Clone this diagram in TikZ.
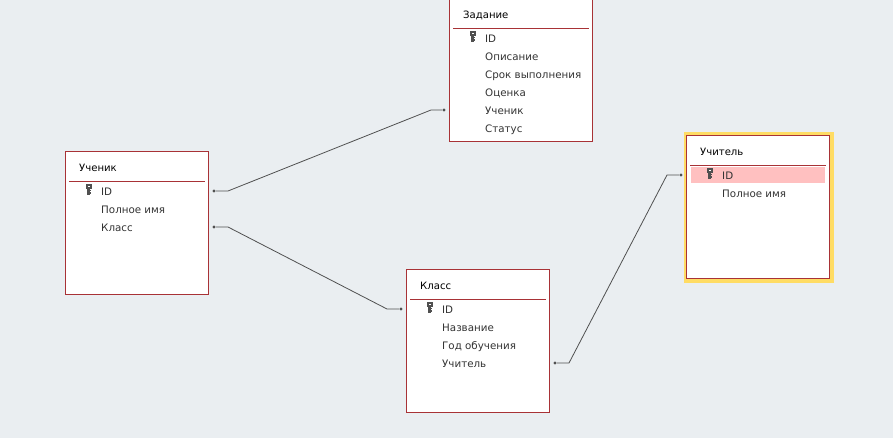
\documentclass[tikz,border=0pt]{standalone}
\usepackage{fontspec}
\setmainfont{DejaVu Sans}
\definecolor{canvas}{HTML}{EAEEF1}
\definecolor{tableline}{HTML}{A83236}
\definecolor{selected}{HTML}{FFDC64}
\definecolor{rowred}{HTML}{FFC0C0}
\definecolor{linkgrey}{HTML}{505050}
\definecolor{fieldtext}{HTML}{333333}
\tikzset{
	tablebox/.style = {draw = tableline, fill = white, line width = 1.1pt, minimum width = 143pt, minimum height = 143pt, inner sep = 0, outer sep = 0, anchor = north west},
	titletext/.style = {inner sep = 0, anchor = base west, text = black, font = \fontsize{10.1}{12}\selectfont},
	fieldname/.style = {inner sep = 0, anchor = base west, text = fieldtext, font = \fontsize{10.3}{12}\selectfont},
	linkdot/.style = {circle, fill = linkgrey, inner sep = 0, minimum size = 3.4pt},
	link/.style = {draw = linkgrey, line width = .8pt},
	keyicon/.pic = {
		\fill[linkgrey] (-2.8,-5.3) rectangle (2.8,-.5);
		\fill[white] (-.9,-3.6) rectangle (.9,-2.5);
		\fill[linkgrey] (-1.6,-.5) rectangle (.6,5.3);
		\fill[linkgrey] (.6,.8) rectangle (2.4,2);
		\fill[linkgrey] (.6,3) rectangle (2.4,4.2);
	}
}
\begin{document}
\begin{tikzpicture}[x = 1pt, y = -1pt]
	\useasboundingbox (0,0) rectangle (893,438);
	\clip (0,0) rectangle (893,438);
	\fill[canvas] (0,0) rectangle (893,438);
	\fill[selected] (683.5,132) rectangle (833.5,282.5);

	% tables
	\foreach \t/\xx/\yy/\head/\rows in {
		zadanie/449.5/-1.5/Задание/{Описание,Срок выполнения,Оценка,Ученик,Статус},
		uchenik/65.5/151.5/Ученик/{Полное имя,Класс},
		klass/406.5/269.5/Класс/{Название,Год обучения,Учитель},
		uchitel/686.5/135.5/Учитель/{Полное имя}}{
		\node[tablebox] (\t) at (\xx, \yy) {};
		\node[titletext] (\t title) at (\xx + 13.5, \yy + 19.8) {\head};
		\draw[tableline, line width = 1pt] (\xx + 3.5, \yy + 30) -- +(136,0);
		\ifnum\pdfstrcmp{\t}{uchitel}=0
			\fill[rowred] (\xx + 4.5, \yy + 31.5) rectangle +(134,16);
		\fi
		\pic at (\xx + 23.5, \yy + 37.9) {keyicon};
		\node[fieldname] (\t id) at (\xx + 35.5, \yy + 44.2) {ID};
		\foreach \f [count = \i] in \rows {
			\node[fieldname] (\t\i) at (\xx + 35.5, \yy + 44.2 + 18 * \i) {\f};
		}
	}

	% relationships
	\node[linkdot] (a1) at (214,191) {};
	\coordinate (a2) at (228,191);
	\coordinate (a3) at (431,110);
	\node[linkdot] (a4) at (444,110) {};
	\draw[link] (a1) -- (a2) -- (a3) -- (a4);

	\node[linkdot] (b1) at (214,227) {};
	\coordinate (b2) at (228,227);
	\coordinate (b3) at (387,309);
	\node[linkdot] (b4) at (401,309) {};
	\draw[link] (b1) -- (b2) -- (b3) -- (b4);

	\node[linkdot] (c1) at (555,363) {};
	\coordinate (c2) at (569,363);
	\coordinate (c3) at (667,175);
	\node[linkdot] (c4) at (681,175) {};
	\draw[link] (c1) -- (c2) -- (c3) -- (c4);
\end{tikzpicture}
\end{document}
